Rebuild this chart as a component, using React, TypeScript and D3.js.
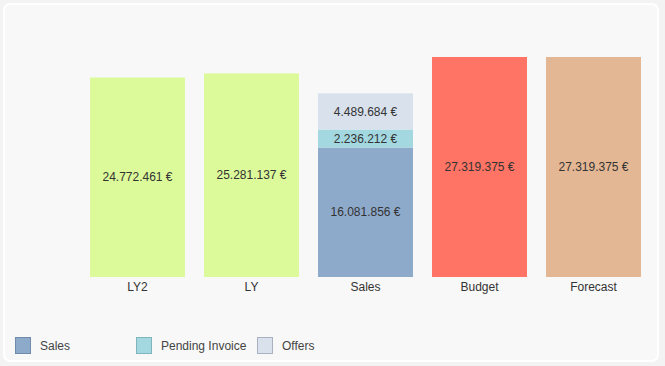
import React, { useEffect, useRef } from 'react'
import * as d3 from 'd3'

const width = 665
const height = 366

const categories = ['LY2', 'LY', 'Sales', 'Budget', 'Forecast']
const singleValues = [24772461, 25281137, null, 27319375, 27319375]
const singleColors = ['#dcfa9a', '#dcfa9a', null, '#ff7464', '#e4b794']

const stackKeys = ['Sales', 'Pending Invoice', 'Offers']
const stackValues = [16081856, 2236212, 4489684]
const stackColors = ['#8eaacb', '#a3d8e0', '#d9e1ed']
const legendStroke = ['#6f8aaa', '#7fb4bc', '#a9b2bf']

const fmt = (v: number) => d3.format(',')(v).replace(/,/g, '.') + ' \u20ac'

export default function App() {
  const svgRef = useRef<SVGSVGElement>(null)

  useEffect(() => {
    drawChart()
  }, [])

  const drawChart = () => {
    const svg = d3.select(svgRef.current)
    svg.selectAll('*').remove()

    const font = '"Liberation Sans", Arial, sans-serif'

    svg.append('rect').attr('width', width).attr('height', height).attr('fill', '#f3f3f3')
    svg.append('rect')
      .attr('x', 4).attr('y', 4).attr('width', 654).attr('height', 357)
      .attr('rx', 6).attr('fill', '#f8f8f8').attr('stroke', '#ffffff').attr('stroke-width', 2)

    const x = d3.scaleBand().domain(categories).range([80.5, 650.5]).paddingInner(0.167).paddingOuter(0.0835)
    const y = d3.scaleLinear().domain([0, 27319375]).range([277, 57])

    const g = svg.append('g')

    // single bars
    categories.forEach((c, i) => {
      const v = singleValues[i]
      if (v == null) return
      g.append('rect')
        .attr('x', x(c)!).attr('y', y(v))
        .attr('width', x.bandwidth()).attr('height', y(0) - y(v))
        .attr('fill', singleColors[i]!)
      g.append('text')
        .attr('x', x(c)! + x.bandwidth() / 2).attr('y', (y(v) + y(0)) / 2)
        .attr('text-anchor', 'middle').attr('dy', '0.35em')
        .attr('font-family', font).attr('font-size', 12).attr('fill', '#333')
        .text(fmt(v))
    })

    // stacked bar
    let acc = 0
    stackValues.forEach((v, i) => {
      const y0 = y(acc)
      const y1 = y(acc + v)
      acc += v
      g.append('rect')
        .attr('x', x('Sales')!).attr('y', y1)
        .attr('width', x.bandwidth()).attr('height', y0 - y1)
        .attr('fill', stackColors[i])
      g.append('text')
        .attr('x', x('Sales')! + x.bandwidth() / 2).attr('y', (y0 + y1) / 2)
        .attr('text-anchor', 'middle').attr('dy', '0.35em')
        .attr('font-family', font).attr('font-size', 12).attr('fill', '#333')
        .text(fmt(v))
    })

    // x axis labels
    categories.forEach(c => {
      g.append('text')
        .attr('x', x(c)! + x.bandwidth() / 2).attr('y', 287)
        .attr('text-anchor', 'middle').attr('dy', '0.35em')
        .attr('font-family', font).attr('font-size', 12).attr('fill', '#333')
        .text(c)
    })

    // legend
    const legendX = [15, 136, 257]
    stackKeys.forEach((k, i) => {
      g.append('rect')
        .attr('x', legendX[i] + 0.5).attr('y', 337.5).attr('width', 15).attr('height', 16)
        .attr('fill', stackColors[i]).attr('stroke', legendStroke[i])
      g.append('text')
        .attr('x', legendX[i] + 25).attr('y', 346)
        .attr('dy', '0.35em')
        .attr('font-family', font).attr('font-size', 12).attr('fill', '#444')
        .text(k)
    })
  }

  return (
    <div style={{ position: 'fixed', left: 0, top: 0 }}>
      <svg ref={svgRef} width={width} height={height} style={{ display: 'block' }}></svg>
    </div>
  )
}
